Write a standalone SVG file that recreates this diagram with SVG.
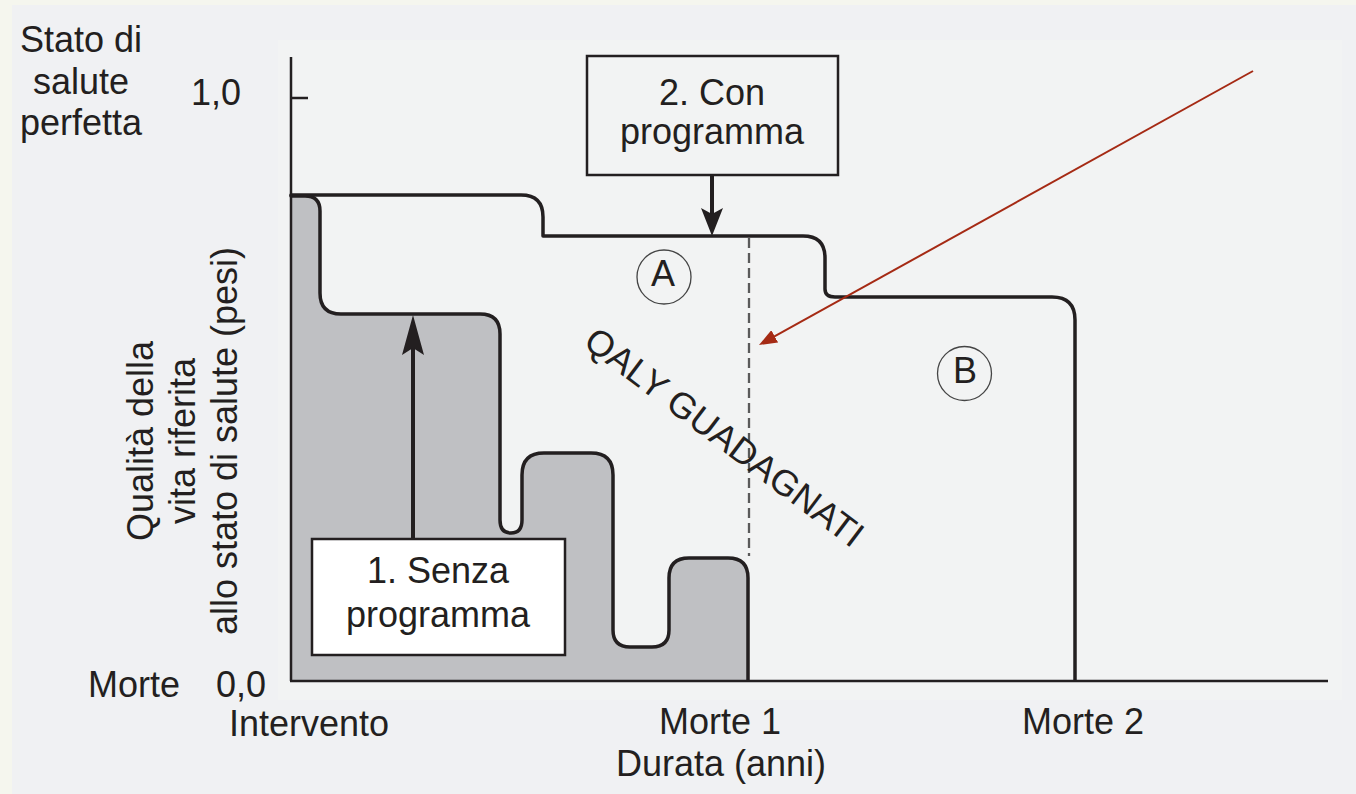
<svg xmlns="http://www.w3.org/2000/svg" width="1356" height="794" viewBox="0 0 1356 794">
  <style>
    text { font-family: "Liberation Sans", Arial, Helvetica, sans-serif; font-size: 36px; fill: #231f20; }
    .mid { text-anchor: middle; }
    .curve { fill: none; stroke: #231f20; stroke-width: 3.5; stroke-linejoin: round; stroke-linecap: round; }
    .axis { fill: none; stroke: #231f20; stroke-width: 2.5; }
    .box { stroke: #231f20; stroke-width: 2.5; }
    .tag { fill: none; stroke: #444; stroke-width: 1.3; }
    .conn { stroke: #231f20; stroke-width: 4; fill: none; }
  </style>
  <defs>
    <marker id="headLong" markerUnits="userSpaceOnUse" viewBox="0 0 40 22" markerWidth="40" markerHeight="22" refX="30" refY="11" orient="auto">
      <path d="M0,0 L40,11 L0,22 L7,11 Z" fill="#231f20"/>
    </marker>
    <marker id="headShort" markerUnits="userSpaceOnUse" viewBox="0 0 28 22" markerWidth="28" markerHeight="22" refX="18" refY="11" orient="auto">
      <path d="M0,0 L28,11 L0,22 L6,11 Z" fill="#231f20"/>
    </marker>
    <marker id="headRed" markerUnits="userSpaceOnUse" viewBox="0 0 18 14" markerWidth="18" markerHeight="14" refX="8" refY="7" orient="auto">
      <path d="M0,0 L18,7 L0,14 Z" fill="#a52a14"/>
    </marker>
  </defs>

  <!-- page background -->
  <rect x="0" y="0" width="1356" height="794" fill="#f5f6ee"/>
  <rect x="12" y="5" width="1344" height="789" fill="#f0f1f3"/>
  <rect x="278" y="40" width="1064" height="660" fill="#f2f3f3"/>

  <!-- shaded area: without programme -->
  <g id="senza-area">
    <path d="M291,680 V196 H305 Q320,196 320,211 V293 Q320,314 341,314 H480 Q500,314 500,334 V520 Q500,533 511,533 Q522,533 522,520 V475 Q522,453 544,453 H591 Q613,453 613,475 V630 Q613,647 630,647 H652 Q669,647 669,630 V578 Q669,558 689,558 H728 Q748,558 748,578 V680 Z" fill="#bfc0c3"/>
    <path class="curve" d="M291,196 H305 Q320,196 320,211 V293 Q320,314 341,314 H480 Q500,314 500,334 V520 Q500,533 511,533 Q522,533 522,520 V475 Q522,453 544,453 H591 Q613,453 613,475 V630 Q613,647 630,647 H652 Q669,647 669,630 V578 Q669,558 689,558 H728 Q748,558 748,578 V680"/>
  </g>

  <!-- curve: with programme -->
  <g id="con-curve">
    <path class="curve" d="M291,195 H521 Q543,195 543,217 V236 H803 Q825,236 825,258 V289 Q825,297 835,297 H1052 Q1075,297 1075,320 V680"/>
  </g>

  <!-- dashed separator at first death -->
  <g id="separator">
    <line x1="749" y1="238" x2="749" y2="556" stroke="#5a5a5a" stroke-width="2.3" stroke-dasharray="10 5"/>
  </g>

  <!-- axes -->
  <g id="axes">
    <line class="axis" x1="291" y1="57" x2="291" y2="681"/>
    <line class="axis" x1="290" y1="681" x2="1328" y2="681"/>
    <line class="axis" x1="291" y1="98" x2="308" y2="98"/>
  </g>

  <!-- axis labels -->
  <g id="y-labels">
    <text class="mid" x="81" y="52">Stato di</text>
    <text class="mid" x="81" y="94">salute</text>
    <text class="mid" x="81" y="135">perfetta</text>
    <text x="191" y="105">1,0</text>
    <text x="88" y="697">Morte</text>
    <text x="216" y="697">0,0</text>
  </g>
  <g id="y-title">
    <text class="mid" transform="translate(153,441) rotate(-90)">Qualità della</text>
    <text class="mid" transform="translate(195,441) rotate(-90)">vita riferita</text>
    <text class="mid" transform="translate(237,441) rotate(-90)">allo stato di salute (pesi)</text>
  </g>
  <g id="x-labels">
    <text x="229" y="736">Intervento</text>
    <text class="mid" x="720" y="734">Morte 1</text>
    <text class="mid" x="1083" y="734">Morte 2</text>
    <text class="mid" x="721" y="776">Durata (anni)</text>
  </g>

  <!-- box: with programme -->
  <g id="box-con">
    <rect class="box" x="587" y="56" width="251" height="119" fill="#f2f3f3"/>
    <text class="mid" x="712" y="105">2. Con</text>
    <text class="mid" x="712" y="144">programma</text>
  </g>

  <!-- box: without programme -->
  <g id="box-senza">
    <rect class="box" x="312" y="539" width="253" height="116" fill="#ffffff"/>
    <text class="mid" x="438" y="583">1. Senza</text>
    <text class="mid" x="438" y="627">programma</text>
  </g>

  <!-- area tags -->
  <g id="tag-a">
    <circle class="tag" cx="664" cy="277" r="27"/>
    <text class="mid" x="663" y="286">A</text>
  </g>
  <g id="tag-b">
    <circle class="tag" cx="964.5" cy="373.5" r="27"/>
    <text class="mid" x="965" y="383">B</text>
  </g>

  <!-- gained QALY label -->
  <g id="qaly">
    <text class="mid" transform="translate(717,447) rotate(37)">QALY GUADAGNATI</text>
  </g>

  <!-- connectors -->
  <g id="connectors">
    <line class="conn" x1="712" y1="175" x2="712" y2="226" marker-end="url(#headShort)"/>
    <line class="conn" x1="413" y1="539" x2="413" y2="325" marker-end="url(#headLong)"/>
    <line x1="1253" y1="71" x2="767.7" y2="340.2" stroke="#a52a14" stroke-width="2" marker-end="url(#headRed)"/>
  </g>
</svg>
